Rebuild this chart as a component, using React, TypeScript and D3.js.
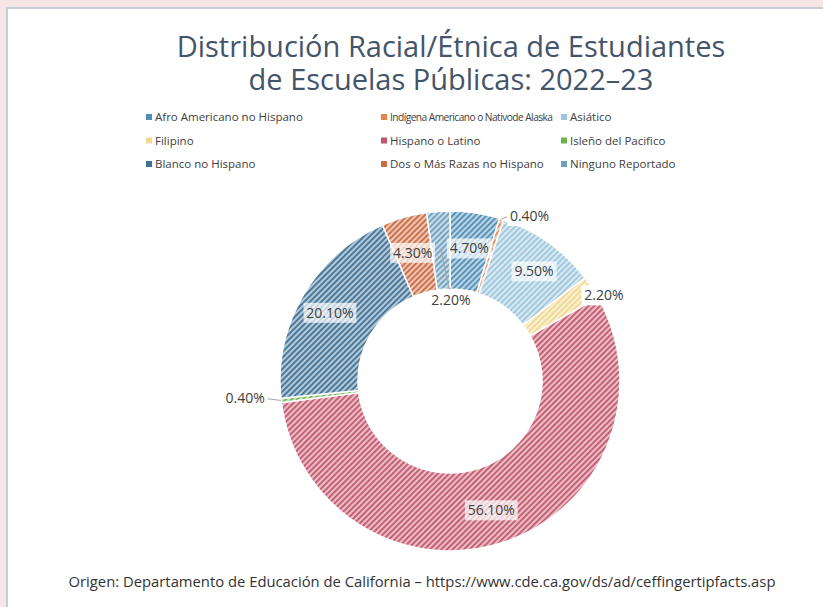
import React from "react";
import * as d3 from "d3";

const categories = [
  "Afro Americano no Hispano",
  "Indígena Americano o Nativode Alaska",
  "Asiático",
  "Filipino",
  "Hispano o Latino",
  "Isleño del Pacifico",
  "Blanco no Hispano",
  "Dos o Más Razas no Hispano",
  "Ninguno Reportado",
];
const values = [4.7, 0.4, 9.5, 2.2, 56.1, 0.4, 20.1, 4.3, 2.2];
const valueLabels = ["4.70%", "0.40%", "9.50%", "2.20%", "56.10%", "0.40%", "20.10%", "4.30%", "2.20%"];
const colors = ["#4f8db5", "#e8834a", "#9cc6dd", "#f1d88e", "#c4566b", "#6cb34e", "#3f7196", "#cc6a40", "#6e9fbf"];
const titleLines = ["Distribución Racial/Étnica de Estudiantes", "de Escuelas Públicas: 2022–23"];
const sourceText = "Origen: Departamento de Educación de California – https://www.cde.ca.gov/ds/ad/ceffingertipfacts.asp";

// label placement style (mode, dx, dy)
const labelModes = ["in", "out", "in", "out", "in", "out", "in", "in", "hole"];
const labelOffsets: [number, number][] = [
  [0, -3], [28, -3], [8, -3], [12, 8], [0, 5], [-36, -2], [-7, -2], [-2, -2], [10, 50],
];

const W = 823;
const H = 607;
const cx = 450;
const cy = 381;
const R = 170;
const r0 = 92;
const FONT = "'Open Sans', Lato, sans-serif";

export default function App() {
  const pie = d3.pie<number>().sort(null).value((d) => d).startAngle(0).endAngle(Math.PI * 2);
  const arcs = pie(values);
  const arc = d3.arc<d3.PieArcDatum<number>>().innerRadius(r0).outerRadius(R);
  const midArc = d3.arc<d3.PieArcDatum<number>>().innerRadius((R + r0) / 2).outerRadius((R + r0) / 2);
  const outArc = d3.arc<d3.PieArcDatum<number>>().innerRadius(R).outerRadius(R);

  const lighten = (c: string) => d3.interpolateRgb(c, "#ffffff")(0.62);

  return (
    <div style={{ position: "fixed", left: 0, top: 0, width: W, height: H, overflow: "hidden" }}>
      <svg width={W} height={H} style={{ display: "block", fontFamily: FONT }}>
        <defs>
          {colors.map((c, i) => (
            <pattern
              key={i}
              id={`hatch${i}`}
              patternUnits="userSpaceOnUse"
              width={4}
              height={4}
              patternTransform="rotate(45)"
            >
              <rect width={4} height={4} fill={lighten(c)} />
              <rect width={1.8} height={4} fill={c} />
            </pattern>
          ))}
        </defs>
        <rect width={W} height={H} fill="#f5e5e5" />
        <rect x={7} y={8} width={W + 20} height={H + 20} fill="#ffffff" stroke="#c8ccd6" strokeWidth={2} />

        <text textAnchor="middle" fontSize={29} fill="#44546a">
          {titleLines.map((t, i) => (
            <tspan key={i} x={451} y={57 + i * 33}>
              {t}
            </tspan>
          ))}
        </text>

        {categories.map((c, i) => {
          const col = i % 3;
          const row = Math.floor(i / 3);
          const x = [146, 381, 561][col];
          const y = 121 + row * 23.5;
          return (
            <g key={c}>
              <rect x={x} y={y - 7} width={6} height={6} fill={colors[i]} />
              <text
                x={x + 9}
                y={y}
                fontSize={i === 1 ? 10.2 : 11.5}
                letterSpacing={i === 1 ? -0.55 : 0}
                fill="#404040"
              >
                {c}
              </text>
            </g>
          );
        })}

        <g transform={`translate(${cx},${cy})`}>
          {arcs.map((a, i) => (
            <path key={i} d={arc(a) || ""} fill={`url(#hatch${i})`} stroke="#ffffff" strokeWidth={1.5} />
          ))}
          {arcs.map((a, i) => {
            const mode = labelModes[i];
            const [dx, dy] = labelOffsets[i];
            const base = mode === "out" ? outArc.centroid(a) : midArc.centroid(a);
            const lx = base[0] + dx;
            const ly = base[1] + dy;
            const label = valueLabels[i];
            const tw = label.length * 7.8;
            const boxW = tw + 6;
            const boxH = 20;
            let leader: string | null = null;
            if (mode === "out" && i !== 3) {
              const sx = base[0];
              const sy = base[1];
              const ex = dx > 0 ? lx - boxW / 2 + 2 : lx + boxW / 2 - 2;
              leader = `M${sx},${sy}L${ex},${ly}`;
            }
            if (mode === "hole") {
              leader = `M${base[0]},${base[1]}L${base[0] + 8},${ly - 12}L${lx},${ly - 12}`;
            }
            return (
              <g key={`l${i}`}>
                {leader && <path d={leader} fill="none" stroke="#a6a6a6" strokeWidth={1} />}
                <rect
                  x={lx - boxW / 2}
                  y={ly - boxH / 2}
                  width={boxW}
                  height={boxH}
                  fill="#ffffff"
                  fillOpacity={mode === "in" ? 0.7 : 1}
                />
                <text x={lx} y={ly + 5} textAnchor="middle" fontSize={14} fill="#404040">
                  {label}
                </text>
              </g>
            );
          })}
        </g>

        <text x={422} y={587} textAnchor="middle" fontSize={14.8} fill="#333333">
          {sourceText}
        </text>
      </svg>
    </div>
  );
}
